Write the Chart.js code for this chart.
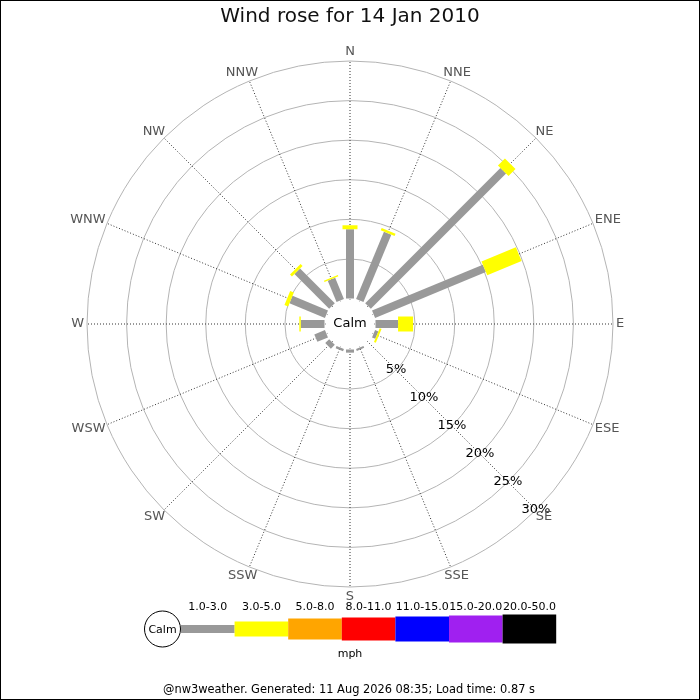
<!DOCTYPE html>
<html>
<head>
<meta charset="utf-8">
<script src="https://cdn.jsdelivr.net/npm/chart.js@4.4.1/dist/chart.umd.min.js"></script>
<style>
  html, body { margin: 0; padding: 0; background: #fff; }
  #wrap { width: 700px; height: 700px; }
</style>
</head>
<body>
<div id="wrap"><canvas id="rose"></canvas></div>
<script>
// wind directions, clockwise from north
const DIRECTIONS = ['N', 'NNE', 'NE', 'ENE', 'E', 'ESE', 'SE', 'SSE',
                    'S', 'SSW', 'SW', 'WSW', 'W', 'WNW', 'NW', 'NNW'];

// speed bins (mph) and their colours
const SPEED_BINS = ['1.0-3.0', '3.0-5.0', '5.0-8.0', '8.0-11.0', '11.0-15.0', '15.0-20.0', '20.0-50.0'];
const BIN_COLORS = ['#999999', '#ffff00', '#ffa500', '#ff0000', '#0000ff', '#a020f0', '#000000'];

// % of time per direction in each bin (only the two lowest bins occurred)
const PCT_1_3 = [8.75, 9.2, 24.15, 15.15, 2.85, 0.45, 0, 0.25, 0.4, 0.3, 0.7, 1.45, 3.0, 4.85, 6.2, 2.9];
const PCT_3_5 = [0.5, 0.32, 1.25, 4.7, 1.9, 0.25, 0, 0, 0, 0, 0, 0, 0.18, 0.5, 0.35, 0.2];

const RING_TICKS = [5, 10, 15, 20, 25, 30];

const TITLE = 'Wind rose for 14 Jan 2010';
const FOOTER = '@nw3weather. Generated: 11 Aug 2026 08:35; Load time: 0.87 s';

const BAR_WIDTHS = [8, 15, 21, 23, 25, 27, 29];
const FONT = '"DejaVu Sans", sans-serif';

// stack the bins into cumulative radii
const series = [PCT_1_3, PCT_3_5];
const cumulative = [];
series.forEach((vals, k) => {
  cumulative.push(vals.map((v, i) => v + (k > 0 ? cumulative[k - 1][i] : 0)));
});

const rosePlugin = {
  id: 'rose',
  afterDatasetsDraw(chart) {
    const ctx = chart.ctx;
    const scale = chart.scales.r;

    ctx.save();
    ctx.lineCap = 'butt';
    chart.data.datasets.forEach((ds, k) => {
      ds.data.forEach((v, i) => {
        const from = k === 0 ? 0 : chart.data.datasets[k - 1].data[i];
        if (v - from <= 0) return;
        const a = scale.getPointPositionForValue(i, from);
        const b = scale.getPointPositionForValue(i, v);
        ctx.strokeStyle = BIN_COLORS[k];
        ctx.lineWidth = BAR_WIDTHS[k];
        ctx.beginPath();
        ctx.moveTo(a.x, a.y);
        ctx.lineTo(b.x, b.y);
        ctx.stroke();
      });
    });

    // calm circle
    const calmR = scale.getDistanceFromCenterForValue(0) - 1;
    ctx.fillStyle = '#fff';
    ctx.beginPath();
    ctx.arc(scale.xCenter, scale.yCenter, calmR, 0, Math.PI * 2);
    ctx.fill();
    ctx.fillStyle = '#000';
    ctx.font = '13px ' + FONT;
    ctx.textAlign = 'center';
    ctx.textBaseline = 'middle';
    ctx.fillText('Calm', scale.xCenter, scale.yCenter);

    // ring labels along the SE spoke
    RING_TICKS.forEach(t => {
      const p = scale.getPointPositionForValue(6, t);
      ctx.fillText(t + '%', p.x, p.y);
    });

    // direction labels
    ctx.fillStyle = '#555';
    const r0 = scale.drawingArea + 3;
    DIRECTIONS.forEach((d, i) => {
      const th = i * Math.PI / 8;
      const p = scale.getPointPosition(i, r0);
      const hw = ctx.measureText(d).width / 2;
      ctx.fillText(d, p.x + hw * Math.sin(th), p.y - 6.5 * Math.cos(th));
    });
    ctx.restore();
  },
  afterDraw(chart) {
    const ctx = chart.ctx;
    ctx.save();
    ctx.textAlign = 'center';
    ctx.textBaseline = 'middle';

    ctx.fillStyle = '#111';
    ctx.font = '20px ' + FONT;
    ctx.fillText(TITLE, 350, 17);

    // legend
    const cy = 629;
    const left = 181, segW = 53.6;
    ctx.fillStyle = '#fff';
    ctx.strokeStyle = '#000';
    ctx.lineWidth = 1;
    ctx.beginPath();
    ctx.arc(162.5, cy, 18, 0, Math.PI * 2);
    ctx.fill();
    ctx.stroke();
    ctx.fillStyle = '#000';
    ctx.font = '11px ' + FONT;
    ctx.fillText('Calm', 162.5, cy + 1);
    SPEED_BINS.forEach((b, k) => {
      const x = left + k * segW;
      ctx.fillStyle = BIN_COLORS[k];
      ctx.fillRect(x, cy - BAR_WIDTHS[k] / 2, segW, BAR_WIDTHS[k]);
      ctx.fillStyle = '#000';
      ctx.fillText(b, x + segW / 2, 607);
    });
    ctx.fillText('mph', 350, 654);

    ctx.font = '11.4px ' + FONT;
    ctx.fillText(FOOTER, 349, 690);

    ctx.strokeStyle = '#000';
    ctx.strokeRect(0.5, 0.5, 699, 699);
    ctx.restore();
  }
};

new Chart(document.getElementById('rose'), {
  type: 'radar',
  data: {
    labels: DIRECTIONS,
    datasets: cumulative.map((vals, k) => ({
      label: SPEED_BINS[k],
      data: vals,
      borderWidth: 0,
      borderColor: 'rgba(0,0,0,0)',
      backgroundColor: 'rgba(0,0,0,0)',
      pointRadius: 0,
      fill: false
    }))
  },
  options: {
    responsive: true,
    maintainAspectRatio: false,
    animation: false,
    events: [],
    layout: { padding: { left: 87, right: 87, top: 61, bottom: 113 } },
    plugins: { legend: { display: false }, tooltip: { enabled: false } },
    scales: {
      r: {
        min: -3.22,
        max: 30,
        startAngle: 0,
        afterBuildTicks: (scale) => { scale.ticks = RING_TICKS.map(v => ({ value: v })); },
        ticks: { display: false },
        pointLabels: { display: false },
        grid: { circular: true, color: '#b4b4b4', lineWidth: 1 },
        angleLines: { color: '#333', lineWidth: 1, borderDash: [1, 2] }
      }
    }
  },
  plugins: [rosePlugin]
});
</script>
</body>
</html>
